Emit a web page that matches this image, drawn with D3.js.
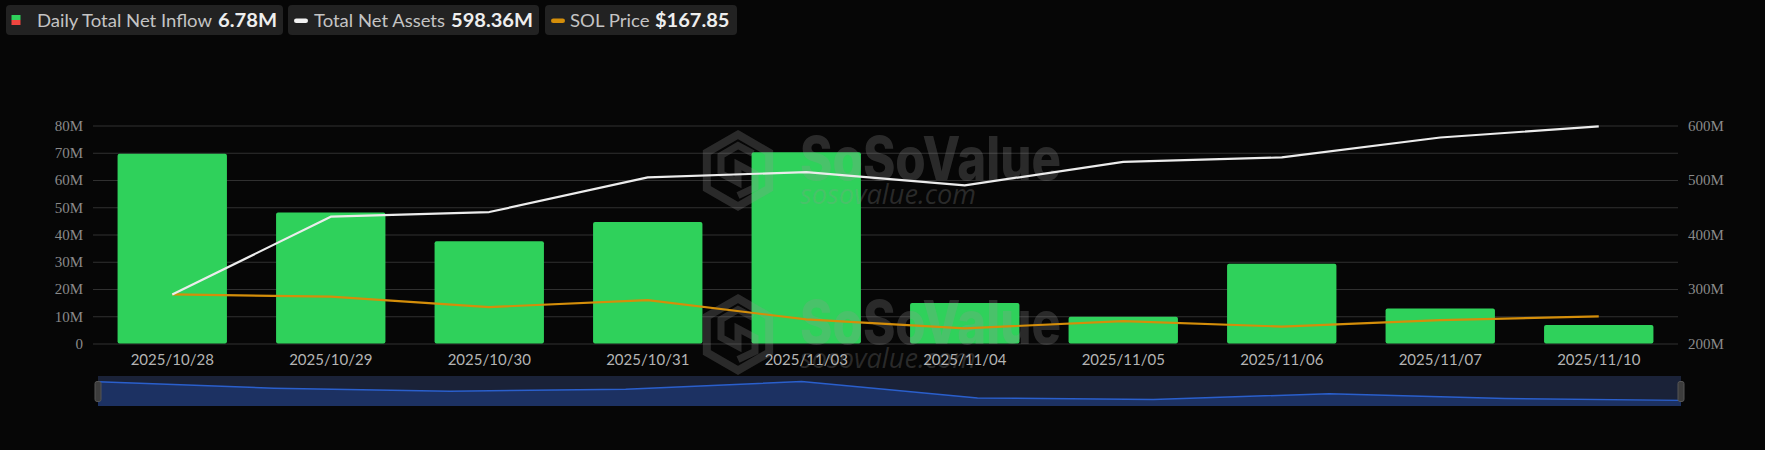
<!DOCTYPE html>
<html><head><meta charset="utf-8">
<script src="https://cdn.jsdelivr.net/npm/d3@7"></script>
<style>
html,body{margin:0;padding:0;background:#060606;}
svg{display:block;}
</style></head><body>
<svg id="chart" width="1765" height="450"></svg>
<script>
// ---- data ----
const dates = ["2025/10/28","2025/10/29","2025/10/30","2025/10/31","2025/11/03","2025/11/04","2025/11/05","2025/11/06","2025/11/07","2025/11/10"];
const dailyNetInflow = [69.6, 48.1, 37.5, 44.6, 70.2, 14.9, 9.8, 29.3, 12.8, 6.78];        // M USD
const totalNetAssets = [289.8, 432.7, 441.2, 504.7, 514.5, 490.1, 533.4, 541.4, 578.0, 598.36]; // M USD
const solPrice = [196.0, 193.1, 179.8, 188.7, 164.0, 152.5, 161.8, 154.7, 163.1, 167.85];   // USD
const leftTicks = [0, 10, 20, 30, 40, 50, 60, 70, 80];
const rightTicks = [200, 300, 400, 500, 600];
const legendLabels = ["Daily Total Net Inflow", "Total Net Assets", "SOL Price"];

// ---- layout ----
const svg = d3.select("#chart");
const W = 1765, H = 450;
const L = 93, R = 1678, B = 343.5, T = 125.5;
svg.append("rect").attr("width", W).attr("height", H).attr("fill", "#060606");

const x = d3.scaleBand().domain(dates).range([L, R]).paddingInner(0.31).paddingOuter(0.155);
const yL = d3.scaleLinear().domain([0, 80]).range([B, T]);
const yR = d3.scaleLinear().domain([200, 600]).range([B, T]);
const yP = d3.scaleLinear().domain([133, 413]).range([B, T]);
const cx = d => x(d) + x.bandwidth() / 2;

// grid + left axis
const gL = svg.append("g").attr("transform", `translate(${L},0)`)
  .call(d3.axisLeft(yL).tickValues(leftTicks).tickSize(-(R - L)).tickPadding(10)
    .tickFormat(d => d === 0 ? "0" : d + "M"));
gL.select(".domain").remove();
gL.selectAll(".tick line").attr("stroke", "#303030").attr("stroke-width", 1);
gL.selectAll(".tick text").attr("fill", "#8a8a8a").attr("font-family", "'Liberation Serif', serif").attr("font-size", 15);

// right axis
const gR = svg.append("g").attr("transform", `translate(${R},0)`)
  .call(d3.axisRight(yR).tickValues(rightTicks).tickSize(0).tickPadding(10).tickFormat(d => d + "M"));
gR.select(".domain").remove();
gR.selectAll(".tick text").attr("fill", "#8a8a8a").attr("font-family", "'Liberation Serif', serif").attr("font-size", 15);

// x axis
const gX = svg.append("g").attr("transform", `translate(0,${B})`)
  .call(d3.axisBottom(x).tickSize(0).tickPadding(11));
gX.select(".domain").remove();
gX.selectAll(".tick text").attr("fill", "#b4b4b4").attr("font-family", "Lato, sans-serif").attr("font-size", 15);

// bars
svg.append("g").selectAll("rect").data(dailyNetInflow).join("rect")
  .attr("x", (d, i) => x(dates[i]))
  .attr("y", d => yL(d))
  .attr("width", x.bandwidth())
  .attr("height", d => yL(0) - yL(d))
  .attr("rx", 2)
  .attr("fill", "#2fd15b");

// watermark
function watermark(dy) {
  const g = svg.append("g").attr("transform", `translate(0,${dy})`).attr("pointer-events", "none");
  const col = "rgba(150,150,150,0.25)";
  const hx = 738, hy = 170.5, r = 36;
  const pts = d3.range(6).map(k => {
    const a = Math.PI / 3 * k - Math.PI / 2;
    return [hx + r * Math.cos(a), hy + r * Math.sin(a)];
  });
  g.append("path").attr("d", "M" + pts.join("L") + "Z")
    .attr("fill", "none").attr("stroke", col).attr("stroke-width", 8).attr("stroke-linejoin", "miter");
  g.append("path")
    .attr("d", `M${hx+15},${hy-17} L${hx},${hy-25} L${hx-17},${hy-15} L${hx-17},${hy+3} L${hx},${hy+12} L${hx},${hy-6} L${hx+17},${hy+3} L${hx+17},${hy+17} L${hx},${hy+25}`)
    .attr("fill", "none").attr("stroke", col).attr("stroke-width", 7).attr("stroke-linejoin", "miter");
  g.append("text").attr("x", 800).attr("y", 180).text("SoSoValue")
    .attr("font-family", "Inter, 'Open Sans', sans-serif").attr("font-weight", 800).attr("font-size", 60)
    .attr("textLength", 261).attr("lengthAdjust", "spacingAndGlyphs").attr("fill", col);
  g.append("text").attr("x", 800).attr("y", 204).text("sosovalue.com")
    .attr("font-family", "'Open Sans', sans-serif").attr("font-style", "italic").attr("font-size", 27)
    .attr("textLength", 176).attr("lengthAdjust", "spacingAndGlyphs").attr("fill", col);
}
watermark(0);
watermark(164);

// lines
const lineAssets = d3.line().x((d, i) => cx(dates[i])).y(d => yR(d));
const linePrice = d3.line().x((d, i) => cx(dates[i])).y(d => yP(d));
svg.append("path").datum(solPrice).attr("d", linePrice)
  .attr("fill", "none").attr("stroke", "#d48e0a").attr("stroke-width", 2.2).attr("stroke-linejoin", "round");
svg.append("path").datum(totalNetAssets).attr("d", lineAssets)
  .attr("fill", "none").attr("stroke", "#ececec").attr("stroke-width", 2.2).attr("stroke-linejoin", "round");

// slider (data zoom)
const sTop = 376, sBot = 406, sL = 98, sR = 1681;
const sx = d3.scalePoint().domain(dates).range([sL, sR]);
const ext = d3.extent(dailyNetInflow);
const off = (ext[1] - ext[0]) * 0.3;
const sy = d3.scaleLinear().domain([ext[0] - off, ext[1] + off]).range([sBot, sTop]);
svg.append("rect").attr("x", sL).attr("y", sTop).attr("width", sR - sL).attr("height", sBot - sTop).attr("fill", "#1a2238");
svg.append("path").datum(dailyNetInflow)
  .attr("d", d3.area().x((d, i) => sx(dates[i])).y0(sBot).y1(d => sy(d)))
  .attr("fill", "#1c3162");
svg.append("path").datum(dailyNetInflow)
  .attr("d", d3.line().x((d, i) => sx(dates[i])).y(d => sy(d)))
  .attr("fill", "none").attr("stroke", "#2a5fcc").attr("stroke-width", 1.5);
[sL, sR].forEach(hxp => {
  svg.append("rect").attr("x", hxp - 3).attr("y", 381.5).attr("width", 6).attr("height", 20).attr("rx", 2)
    .attr("fill", "#3c3c3c").attr("stroke", "#555").attr("stroke-width", 1);
});

// legend
const last = dailyNetInflow.length - 1;
const legendValues = [d3.format(".2f")(dailyNetInflow[last]) + "M",
                      d3.format(".2f")(totalNetAssets[last]) + "M",
                      "$" + d3.format(".2f")(solPrice[last])];
const boxes = [
  {x: 6,   w: 277, lx: 37,  lw: 175, vx: 218, vw: 59},
  {x: 288, w: 251, lx: 314, lw: 131, vx: 451, vw: 82},
  {x: 545, w: 192, lx: 570, lw: 79.5, vx: 655, vw: 74.5}
];
boxes.forEach((b, i) => {
  const g = svg.append("g");
  g.append("rect").attr("x", b.x).attr("y", 5).attr("width", b.w).attr("height", 30).attr("rx", 4).attr("fill", "#222222");
  if (i === 0) {
    g.append("rect").attr("x", 11.5).attr("y", 15).attr("width", 9).attr("height", 5).attr("fill", "#2fd15b");
    g.append("rect").attr("x", 11.5).attr("y", 20).attr("width", 9).attr("height", 5).attr("fill", "#f0453f");
  } else {
    g.append("rect").attr("x", b.x + 6).attr("y", 18.5).attr("width", 14).attr("height", 4.5).attr("rx", 2.25)
      .attr("fill", i === 1 ? "#f2f2f2" : "#d48e0a");
  }
  g.append("text").attr("x", b.lx).attr("y", 26.5).text(legendLabels[i])
    .attr("font-family", "Lato, sans-serif").attr("font-size", 17).attr("fill", "#c4c4c4")
    .attr("textLength", b.lw).attr("lengthAdjust", "spacingAndGlyphs");
  g.append("text").attr("x", b.vx).attr("y", 27).text(legendValues[i])
    .attr("font-family", "Lato, sans-serif").attr("font-weight", 700).attr("font-size", 19).attr("fill", "#eeeeee")
    .attr("textLength", b.vw).attr("lengthAdjust", "spacingAndGlyphs");
});
</script>
</body></html>
